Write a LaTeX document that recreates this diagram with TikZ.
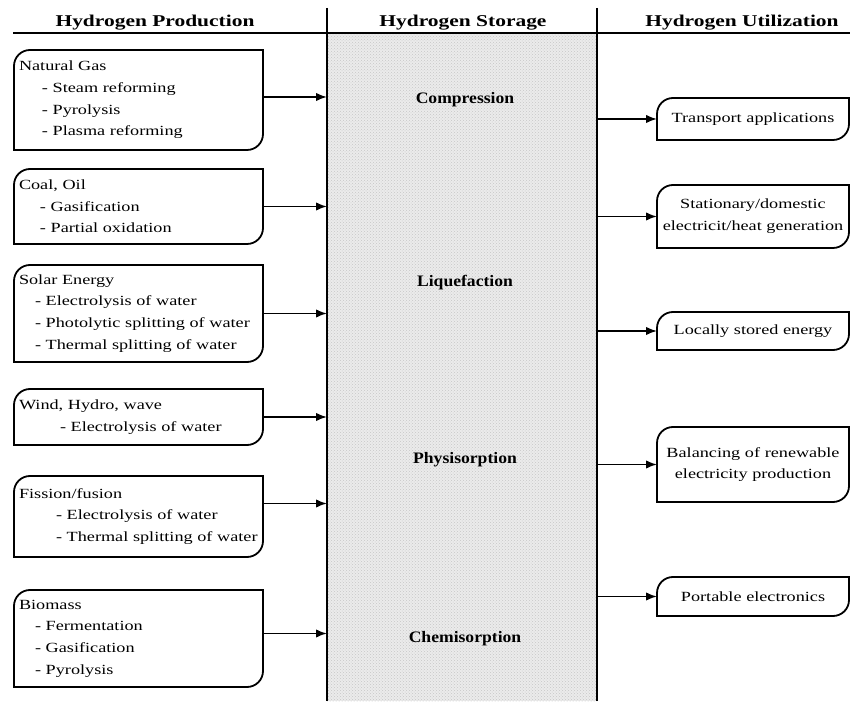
\documentclass[tikz,border=0pt]{standalone}
\usepackage{fontspec}
\setmainfont{Liberation Serif}[FakeStretch=1.3]
\newfontfamily\storefont{Liberation Serif}[FakeStretch=1.1]
\usetikzlibrary{
    arrows.meta,
    patterns
}
\tikzset{
    % Column header style
    column title/.style={
        anchor=base,
        font=\fontsize{16.5pt}{20pt}\selectfont\bfseries
    },
    % Production source box
    source/.style={
        rectangle,
        minimum width=249pt,
        text width=239pt,
        inner sep=5pt,
        outer sep=0pt,
        align=left,
        font=\fontsize{14pt}{21.7pt}\selectfont
    },
    % Utilization box
    usage/.style={
        rectangle,
        minimum width=192pt,
        text width=188pt,
        inner xsep=2pt,
        outer sep=0pt,
        align=center,
        font=\fontsize{14pt}{21.7pt}\selectfont
    },
    % Storage method label
    method/.style={
        font=\storefont\fontsize{16pt}{20pt}\selectfont\bfseries
    },
    % Lines and arrows
    rule/.style={line width=1.9pt},
    feed/.style={
        -{Latex[length=11pt, width=8.5pt]},
        line width=1.8pt
    }
}
% outline with rounded top-left and bottom-right corners
\newcommand\halfround[1]{%
    \draw[line width=1.8pt] (#1.south west) -- ([yshift=-16pt]#1.north west)
        arc[start angle=180, end angle=90, radius=16pt] -- (#1.north east)
        -- ([yshift=16pt]#1.south east)
        arc[start angle=0, end angle=-90, radius=16pt] -- cycle;}

\begin{document}
\begin{tikzpicture}[x=1pt, y=1pt]
        \useasboundingbox (0,0) rectangle (850,701);

        % Storage column
        \node[rectangle, minimum width=270pt, minimum height=668pt, inner sep=0pt, outer sep=0pt,
              fill=black!8, postaction={pattern=crosshatch dots, pattern color=black!22}] (store) at (462, 334) {};
        \draw[rule] ([yshift=25pt]store.north west) -- (store.south west);
        \draw[rule] ([yshift=25pt]store.north east) -- (store.south east);
        \draw[rule] (13, 668) coordinate (hl) -- (850, 668) coordinate (hr);

        % Headers
        \node[column title] (prodhead) at (155, 674) {Hydrogen Production};
        \node[column title] (storehead) at (463, 674) {Hydrogen Storage};
        \node[column title] (usehead) at (742, 674) {Hydrogen Utilization};

        % Storage methods
        \node[method] (comp) at (465, 601) {Compression};
        \node[method] (liq) at (465, 418) {Liquefaction};
        \node[method] (phys) at (465, 241) {Physisorption};
        \node[method] (chem) at (465, 62) {Chemisorption};

        % Production
        \node[source, minimum height=100pt] (gas) at (138.5, 601) {Natural Gas\\\hspace*{23pt}- Steam reforming\\\hspace*{23pt}- Pyrolysis\\\hspace*{23pt}- Plasma reforming};
        \node[source, minimum height=75pt] (coal) at (138.5, 494.5) {Coal, Oil\\\hspace*{21pt}- Gasification\\\hspace*{21pt}- Partial oxidation};
        \node[source, minimum height=97pt] (solar) at (138.5, 387.5) {Solar Energy\\\hspace*{16pt}- Electrolysis of water\\\hspace*{16pt}- Photolytic splitting of water\\\hspace*{16pt}- Thermal splitting of water};
        \node[source, minimum height=56pt] (wind) at (138.5, 284) {Wind, Hydro, wave\\\hspace*{41pt}- Electrolysis of water};
        \node[source, minimum height=81pt] (fission) at (138.5, 184.5) {Fission/fusion\\\hspace*{37pt}- Electrolysis of water\\\hspace*{37pt}- Thermal splitting of water};
        \node[source, minimum height=97pt] (bio) at (138.5, 62.5) {Biomass\\\hspace*{16pt}- Fermentation\\\hspace*{16pt}- Gasification\\\hspace*{16pt}- Pyrolysis};
        \foreach \n in {gas, coal, solar, wind, fission, bio} {\halfround{\n}}

        % Utilization
        \node[usage, minimum height=42pt] (transport) at (753, 582) {Transport applications};
        \node[usage, minimum height=63pt] (stationary) at (753, 484.5) {Stationary/domestic\\electricit/heat generation};
        \node[usage, minimum height=38pt] (local) at (753, 370) {Locally stored energy};
        \node[usage, minimum height=75pt] (balance) at (753, 236.5) {Balancing of renewable\\electricity production};
        \node[usage, minimum height=39pt] (portable) at (753, 104.5) {Portable electronics};
        \foreach \n in {transport, stationary, local, balance, portable} {\halfround{\n}}

        % Connections
        \draw[feed] ([yshift=3pt]gas.east) -- ([yshift=3pt]gas.east -| store.west);
        \foreach \n in {coal, solar, wind} {
            \draw[feed] (\n.east) -- (\n.east -| store.west);
        }
        \draw[feed] ([yshift=13pt]fission.east) -- ([yshift=13pt]fission.east -| store.west);
        \draw[feed] ([yshift=5pt]bio.east) -- ([yshift=5pt]bio.east -| store.west);
        \foreach \n in {transport, stationary, local, balance, portable} {
            \draw[feed] (store.east |- \n.west) -- (\n.west);
        }

    \end{tikzpicture}
\end{document}
